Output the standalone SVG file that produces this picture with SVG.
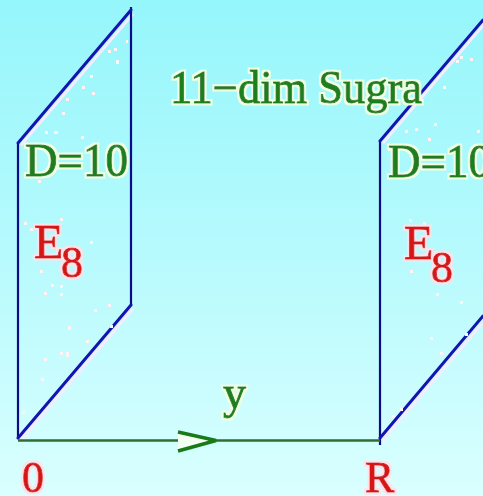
<svg xmlns="http://www.w3.org/2000/svg" width="483" height="496" viewBox="0 0 483 496">
<defs>
<linearGradient id="bg" x1="0" y1="0" x2="0" y2="1">
<stop offset="0" stop-color="#95F6FB"/>
<stop offset="0.5" stop-color="#B6FAFD"/>
<stop offset="1" stop-color="#DAFFFF"/>
</linearGradient>
<filter id="haloG" x="-10%" y="-20%" width="120%" height="140%">
<feMorphology in="SourceAlpha" operator="dilate" radius="1.5" result="d"/>
<feFlood flood-color="#EEFFE2"/>
<feComposite in2="d" operator="in" result="h"/>
<feMerge><feMergeNode in="h"/><feMergeNode in="SourceGraphic"/></feMerge>
</filter>
<filter id="haloR" x="-10%" y="-20%" width="120%" height="140%">
<feMorphology in="SourceAlpha" operator="dilate" radius="1.5" result="d"/>
<feFlood flood-color="#FFE2E8"/>
<feComposite in2="d" operator="in" result="h"/>
<feMerge><feMergeNode in="h"/><feMergeNode in="SourceGraphic"/></feMerge>
</filter>
<style>
.edge{stroke:#0C0C86;stroke-width:2.2;fill:none}
.slant{stroke:#1414B0;stroke-width:3;fill:none;stroke-linecap:round}
.shadow{stroke:#F4ECFF;stroke-width:3;fill:none}
.sp{fill:#FFF4F4}
.g{font-family:"Liberation Serif","Times New Roman",serif;fill:#1C7E1C;stroke:#1C7E1C;stroke-width:0.9;filter:url(#haloG)}
.r{font-family:"Liberation Serif","Times New Roman",serif;fill:#D41414;stroke:#D41414;stroke-width:0.9;filter:url(#haloR)}
.axis{stroke:#2E6E2E;stroke-width:2.5;fill:none}
.head{stroke:#1A7A1A;stroke-width:3.5;fill:#F2FFF2;stroke-linejoin:miter}
</style>
</defs>
<rect width="483" height="496" fill="url(#bg)"/>

<g id="plane-left">
<line class="shadow" x1="21" y1="145" x2="133" y2="14"/>
<line class="shadow" x1="21" y1="440" x2="133" y2="309"/>
<line class="edge" x1="18" y1="143" x2="18" y2="439"/>
<line class="edge" x1="131" y1="7" x2="131" y2="306"/>
<line class="slant" x1="18" y1="143" x2="131" y2="10"/>
<line class="slant" x1="18" y1="438" x2="131" y2="305"/>
<rect class="sp" x="114" y="48" width="3" height="3"/>
<rect class="sp" x="108" y="50" width="3" height="3"/>
<rect class="sp" x="116" y="60" width="3" height="4"/>
<rect class="sp" x="126" y="40" width="2" height="3"/>
<rect class="sp" x="90" y="75" width="3" height="3"/>
<rect class="sp" x="82" y="86" width="3" height="3"/>
<rect class="sp" x="92" y="92" width="3" height="3"/>
<rect class="sp" x="66" y="98" width="3" height="3"/>
<rect class="sp" x="62" y="112" width="3" height="3"/>
<rect class="sp" x="45" y="131" width="3" height="3"/>
<rect class="sp" x="54" y="131" width="4" height="3"/>
<rect class="sp" x="81" y="136" width="3" height="3"/>
<rect class="sp" x="38" y="180" width="3" height="3"/>
<rect class="sp" x="24" y="222" width="3" height="3"/>
<rect class="sp" x="30" y="228" width="3" height="3"/>
<rect class="sp" x="60" y="218" width="3" height="3"/>
<rect class="sp" x="90" y="241" width="3" height="3"/>
<rect class="sp" x="40" y="270" width="3" height="3"/>
<rect class="sp" x="60" y="285" width="3" height="3"/>
<rect class="sp" x="51" y="284" width="3" height="3"/>
<rect class="sp" x="44" y="292" width="3" height="3"/>
<rect class="sp" x="94" y="309" width="3" height="3"/>
<rect class="sp" x="108" y="304" width="3" height="3"/>
<rect class="sp" x="60" y="293" width="3" height="3"/>
<rect class="sp" x="68" y="326" width="3" height="4"/>
<rect class="sp" x="110" y="325" width="3" height="3"/>
<rect class="sp" x="66" y="352" width="3" height="5"/>
<rect class="sp" x="86" y="340" width="3" height="3"/>
<rect class="sp" x="44" y="358" width="3" height="3"/>
<rect class="sp" x="41" y="378" width="3" height="3"/>
<rect class="sp" x="22" y="411" width="3" height="3"/>
<rect class="sp" x="60" y="352" width="3" height="3"/>
</g>

<g id="plane-right">
<line class="shadow" x1="383" y1="143" x2="486" y2="22"/>
<line class="shadow" x1="383" y1="440" x2="486" y2="319"/>
<line class="edge" x1="380" y1="141" x2="380" y2="445"/>
<line class="slant" x1="380" y1="141" x2="483" y2="20"/>
<line class="slant" x1="380" y1="438" x2="483" y2="316"/>
<rect class="sp" x="456" y="60" width="3" height="3"/>
<rect class="sp" x="460" y="56" width="3" height="3"/>
<rect class="sp" x="470" y="58" width="3" height="3"/>
<rect class="sp" x="443" y="86" width="3" height="3"/>
<rect class="sp" x="415" y="128" width="3" height="3"/>
<rect class="sp" x="434" y="123" width="3" height="3"/>
<rect class="sp" x="428" y="138" width="3" height="3"/>
<rect class="sp" x="405" y="130" width="3" height="3"/>
<rect class="sp" x="477" y="130" width="3" height="3"/>
<rect class="sp" x="388" y="148" width="3" height="3"/>
<rect class="sp" x="409" y="219" width="3" height="3"/>
<rect class="sp" x="423" y="222" width="3" height="3"/>
<rect class="sp" x="410" y="270" width="3" height="3"/>
<rect class="sp" x="436" y="293" width="3" height="3"/>
<rect class="sp" x="460" y="301" width="3" height="3"/>
<rect class="sp" x="430" y="337" width="3" height="3"/>
<rect class="sp" x="440" y="352" width="3" height="3"/>
<rect class="sp" x="400" y="408" width="3" height="3"/>
<rect class="sp" x="392" y="415" width="3" height="3"/>
<rect class="sp" x="465" y="333" width="3" height="3"/>
</g>

<g id="title">
<text class="g" x="170" y="103" font-size="46" textLength="252" lengthAdjust="spacingAndGlyphs">11−dim Sugra</text>
</g>

<g id="label-left">
<text class="g" x="25" y="176" font-size="46" textLength="103" lengthAdjust="spacingAndGlyphs">D=10</text>
<text class="r" x="34" y="258" font-size="48">E</text>
<text class="r" x="61" y="277" font-size="44">8</text>
</g>

<g id="label-right">
<text class="g" x="388" y="177" font-size="46" textLength="103" lengthAdjust="spacingAndGlyphs">D=10</text>
<text class="r" x="404" y="259" font-size="48">E</text>
<text class="r" x="431" y="282" font-size="44">8</text>
</g>

<g id="connectors">
<line class="axis" x1="18" y1="440.5" x2="380" y2="440.5"/>
<polyline class="head" points="178,432 216,440.5 178,451"/>
</g>

<g id="axis-labels">
<text class="g" x="223" y="408" font-size="46">y</text>
<text class="r" x="22" y="492" font-size="44">0</text>
<text class="r" x="365" y="492" font-size="44">R</text>
</g>
</svg>
